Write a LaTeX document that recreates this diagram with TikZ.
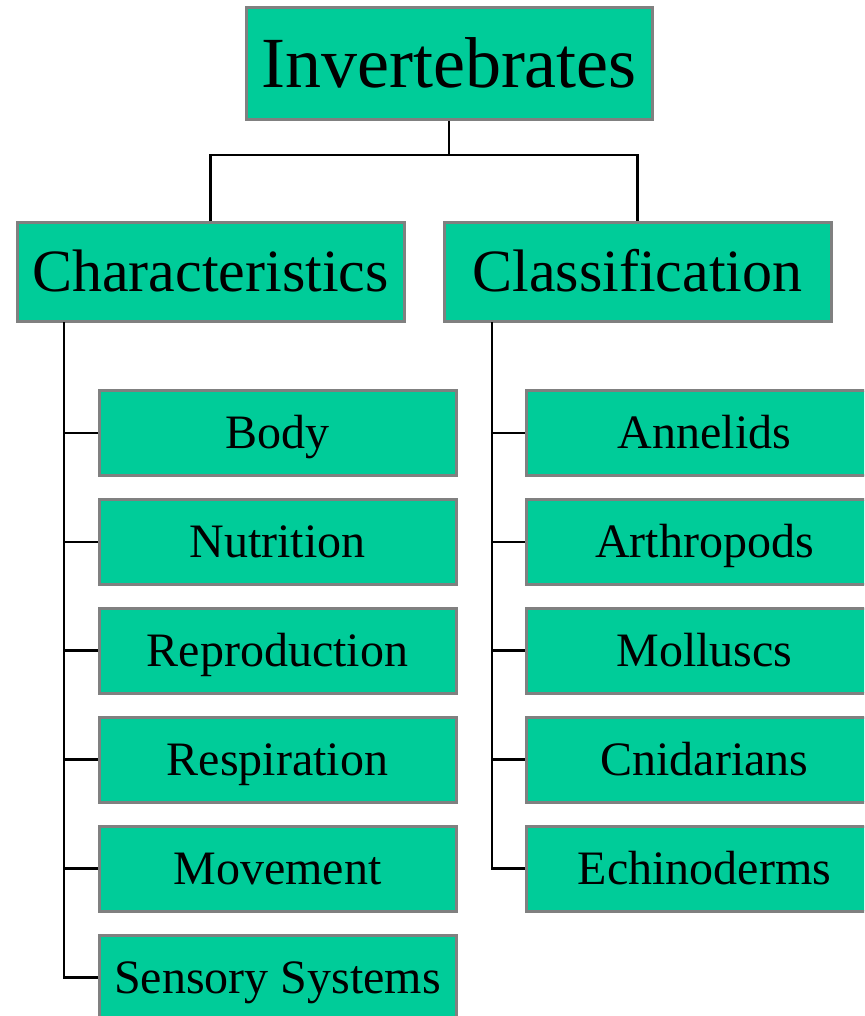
\documentclass[tikz,border=0pt]{standalone}
\usepackage{fontspec}
\setmainfont{Liberation Serif}
\definecolor{boxfill}{HTML}{00CC99}
\definecolor{boxline}{HTML}{808080}
\begin{document}
\begin{tikzpicture}[x=1pt,y=-1pt,
  box/.style={draw=boxline, line width=3pt, fill=boxfill, inner sep=0pt, text=black, align=center},
  topbox/.style={box, minimum width=406pt, minimum height=112pt, font=\fontsize{72}{80}\selectfont, text height=63.4pt, text depth=15.8pt},
  midbox/.style={box, minimum width=387pt, minimum height=98pt, font=\fontsize{60}{68}\selectfont, text height=52.8pt, text depth=13.2pt},
  leafbox/.style={box, minimum width=357pt, minimum height=85pt, font=\fontsize{48}{56}\selectfont, text height=42.2pt, text depth=10.6pt},
  conn/.style={draw=black, line width=2.8pt}]
\useasboundingbox (0,0) rectangle (864,1016);
\clip (0,0) rectangle (864,1016);
\fill[white] (0,0) rectangle (864,1016);

\coordinate (junc) at (449,155);
\coordinate (ltrunk) at (64,322);
\coordinate (rtrunk) at (492,322);

\node[topbox] (inv) at (449,64) {Invertebrates};
\node[midbox] (char) at (210.5,272) {Characteristics};
\node[midbox] (class) at (637.5,272) {Classification};

\node[leafbox] (body) at (277.5,433) {Body};
\node[leafbox] (nutr) at (277.5,542) {Nutrition};
\node[leafbox] (repr) at (277.5,650.5) {Reproduction};
\node[leafbox] (resp) at (277.5,759.5) {Respiration};
\node[leafbox] (move) at (277.5,868.5) {Movement};
\node[leafbox] (sens) at (277.5,977.5) {Sensory Systems};

\node[leafbox] (anne) at (704.5,433) {Annelids};
\node[leafbox] (arth) at (704.5,542) {Arthropods};
\node[leafbox] (moll) at (704.5,650.5) {Molluscs};
\node[leafbox] (cnid) at (704.5,759.5) {Cnidarians};
\node[leafbox] (echi) at (704.5,868.5) {Echinoderms};

\draw[conn] (inv.south) -- (junc);
\draw[conn] (junc) -| (char.north);
\draw[conn] (junc) -| (class.north);

\draw[conn] (ltrunk) |- (sens.west);
\foreach \n in {body,nutr,repr,resp,move}
  \draw[conn] (\n.west) -- (\n.west -| ltrunk);
\draw[conn] (rtrunk) |- (echi.west);
\foreach \n in {anne,arth,moll,cnid}
  \draw[conn] (\n.west) -- (\n.west -| rtrunk);
\end{tikzpicture}
\end{document}
